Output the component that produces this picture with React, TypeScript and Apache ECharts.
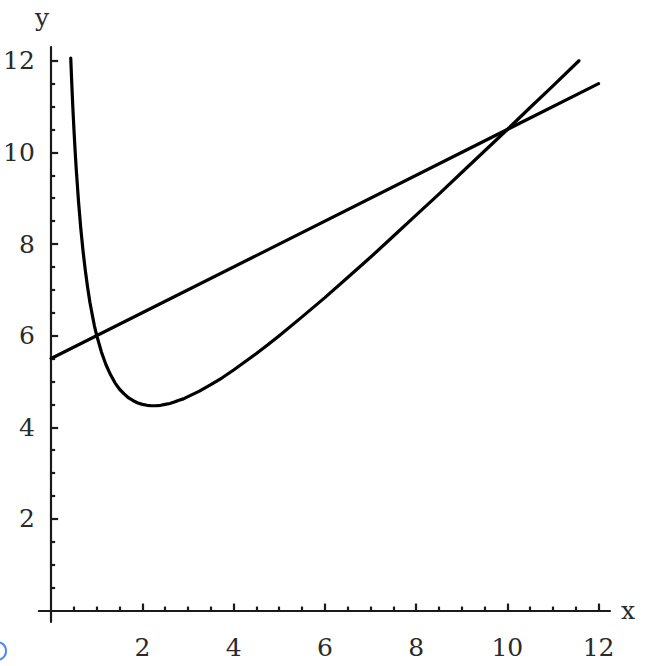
import React, { useEffect, useRef } from "react";
import * as echarts from "echarts";

// Straight line (x, y)
const lineX = [0, 12];
const lineY = [5.5, 11.5];

// Curve (x, y)
const curveX = [0.43, 0.45, 0.475, 0.5, 0.525, 0.55, 0.6, 0.65, 0.7, 0.75, 0.8, 0.85, 0.9, 0.95, 1.0, 1.1, 1.2, 1.3, 1.4, 1.5, 1.6, 1.7, 1.8, 1.9, 2.0, 2.1, 2.2, 2.3, 2.4, 2.5, 2.6, 2.7, 2.8, 2.9, 3.0, 3.25, 3.5, 3.75, 4.0, 4.25, 4.5, 4.75, 5.0, 5.5, 6.0, 6.5, 7.0, 7.5, 8.0, 8.5, 9.0, 9.5, 10.0, 10.5, 11.0, 11.57];
const curveY = [12.06, 11.56, 11.0, 10.5, 10.05, 9.64, 8.93, 8.34, 7.84, 7.42, 7.05, 6.73, 6.46, 6.21, 6.0, 5.65, 5.37, 5.15, 4.97, 4.83, 4.73, 4.64, 4.58, 4.53, 4.5, 4.48, 4.47, 4.47, 4.48, 4.5, 4.52, 4.55, 4.59, 4.62, 4.67, 4.79, 4.93, 5.08, 5.25, 5.43, 5.61, 5.8, 6.0, 6.41, 6.83, 7.27, 7.71, 8.17, 8.63, 9.09, 9.56, 10.03, 10.5, 10.98, 11.45, 12.0];

// Tick labels
const majorTicks = [2, 4, 6, 8, 10, 12];

const FONT = "'DejaVu Serif', serif";

export default function App() {
  const ref = useRef<HTMLDivElement>(null);
  useEffect(() => {
    if (!ref.current) return;
    const chart = echarts.init(ref.current, null, { renderer: "svg" });
    const axisCommon = (minV: number, maxV: number, margin: number) => ({
      type: "value" as const,
      min: minV,
      max: maxV,
      minInterval: 2,
      maxInterval: 2,
      splitLine: { show: false },
      axisLine: { show: true, onZero: true, lineStyle: { color: "#1a1a1a", width: 2.2 } },
      axisTick: {
        show: true,
        inside: true,
        length: 7,
        customValues: majorTicks,
        lineStyle: { color: "#1a1a1a", width: 2.2 },
      },
      minorTick: {
        show: true,
        splitNumber: 4,
        length: 4,
        lineStyle: { color: "#1a1a1a", width: 2.2 },
      },
      axisLabel: {
        customValues: majorTicks,
        margin,
        color: "#2a2a2a",
        fontFamily: FONT,
        fontSize: 25,
      },
    });
    chart.setOption({
      animation: false,
      backgroundColor: "#fff",
      grid: { left: 34, right: 56, top: 47, bottom: 44, containLabel: false },
      xAxis: axisCommon(-0.27, 12.25, 13),
      yAxis: axisCommon(-0.25, 12.3, 4),
      graphic: [
        {
          type: "text",
          left: 35,
          top: 5,
          style: { text: "y", font: `25px ${FONT}`, fill: "#2a2a2a" },
        },
        {
          type: "text",
          left: 621,
          top: 598,
          style: { text: "x", font: `25px ${FONT}`, fill: "#2a2a2a" },
        },
        {
          type: "circle",
          shape: { cx: -3, cy: 651, r: 9 },
          style: { fill: "none", stroke: "#4a86f7", lineWidth: 2 },
        },
      ],
      series: [
        {
          type: "line",
          data: lineX.map((x, i) => [x, lineY[i]]),
          showSymbol: false,
          lineStyle: { color: "#000", width: 3.2, cap: "round" },
        },
        {
          type: "line",
          data: curveX.map((x, i) => [x, curveY[i]]),
          showSymbol: false,
          smooth: false,
          lineStyle: { color: "#000", width: 3.2, cap: "round", join: "round" },
        },
      ],
    });
    return () => chart.dispose();
  }, []);
  return (
    <div
      ref={ref}
      style={{ position: "fixed", left: 0, top: 0, width: 666, height: 666 }}
    />
  );
}
